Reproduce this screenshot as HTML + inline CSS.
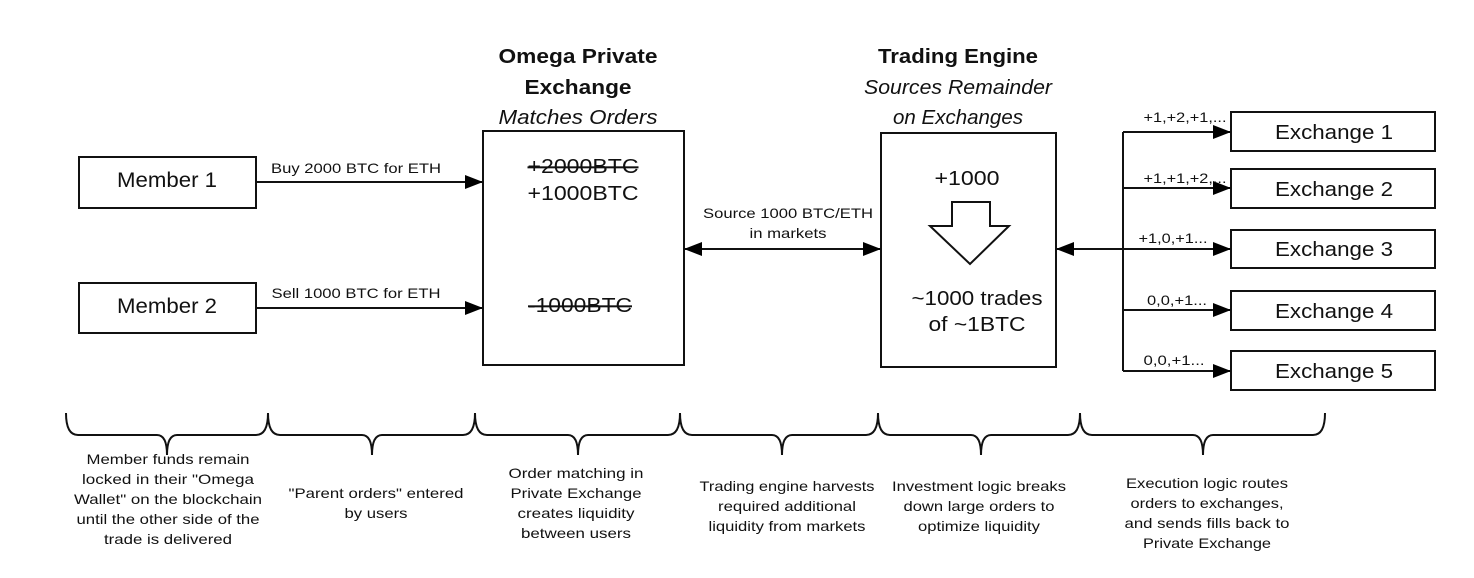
<!DOCTYPE html>
<html><head><meta charset="utf-8"><style>
html,body{margin:0;padding:0;background:#fff;}
svg{display:block;}
text{font-family:"Liberation Sans",sans-serif;fill:#111;}
</style></head><body>
<svg width="1474" height="578" viewBox="0 0 1474 578" xmlns="http://www.w3.org/2000/svg">
<defs>
<marker id="ah" markerWidth="18" markerHeight="14" refX="18" refY="7" orient="auto" markerUnits="userSpaceOnUse">
<path d="M0,0 L18,7 L0,14 Z" fill="#000"/></marker>
<marker id="as" markerWidth="18" markerHeight="14" refX="0" refY="7" orient="auto" markerUnits="userSpaceOnUse">
<path d="M18,0 L0,7 L18,14 Z" fill="#000"/></marker>
</defs>
<g fill="none" stroke="#111" stroke-width="2">
<rect x="79" y="157" width="177" height="51"/>
<rect x="79" y="283" width="177" height="50"/>
<rect x="483" y="131" width="201" height="234"/>
<rect x="881" y="133" width="175" height="234"/>
<rect x="1231" y="112" width="204" height="39"/>
<rect x="1231" y="169" width="204" height="39"/>
<rect x="1231" y="230" width="204" height="38"/>
<rect x="1231" y="291" width="204" height="39"/>
<rect x="1231" y="351" width="204" height="39"/>
<line x1="256" y1="182" x2="483" y2="182" marker-end="url(#ah)"/>
<line x1="256" y1="308" x2="483" y2="308" marker-end="url(#ah)"/>
<line x1="684" y1="249" x2="881" y2="249" marker-start="url(#as)" marker-end="url(#ah)"/>
<line x1="1056" y1="249" x2="1231" y2="249" marker-start="url(#as)" marker-end="url(#ah)"/>
<line x1="1123" y1="132" x2="1123" y2="371"/>
<line x1="1123" y1="132" x2="1231" y2="132" marker-end="url(#ah)"/>
<line x1="1123" y1="188" x2="1231" y2="188" marker-end="url(#ah)"/>
<line x1="1123" y1="310" x2="1231" y2="310" marker-end="url(#ah)"/>
<line x1="1123" y1="371" x2="1231" y2="371" marker-end="url(#ah)"/>
<path d="M952,202 L990,202 L990,226 L1009,226 L970,264 L930,226 L952,226 Z" stroke-width="2"/>
<path d="M66,413 Q66,435 78,435 L157,435 Q167,435 167,455 Q167,435 177,435 L256,435 Q268,435 268,413"/>
<path d="M268,413 Q268,435 280,435 L362,435 Q372,435 372,455 Q372,435 382,435 L463,435 Q475,435 475,413"/>
<path d="M475,413 Q475,435 487,435 L568,435 Q578,435 578,455 Q578,435 588,435 L668,435 Q680,435 680,413"/>
<path d="M680,413 Q680,435 692,435 L772,435 Q782,435 782,455 Q782,435 792,435 L866,435 Q878,435 878,413"/>
<path d="M878,413 Q878,435 890,435 L971,435 Q981,435 981,455 Q981,435 991,435 L1068,435 Q1080,435 1080,413"/>
<path d="M1080,413 Q1080,435 1092,435 L1193,435 Q1203,435 1203,455 Q1203,435 1213,435 L1313,435 Q1325,435 1325,413"/>
</g>
<g text-anchor="middle">
<text x="167" y="187" font-size="21" textLength="100" lengthAdjust="spacingAndGlyphs">Member 1</text>
<text x="167" y="313" font-size="21" textLength="100" lengthAdjust="spacingAndGlyphs">Member 2</text>
<text x="1334" y="139" font-size="20" textLength="118" lengthAdjust="spacingAndGlyphs">Exchange 1</text>
<text x="1334" y="196" font-size="20" textLength="118" lengthAdjust="spacingAndGlyphs">Exchange 2</text>
<text x="1334" y="256" font-size="20" textLength="118" lengthAdjust="spacingAndGlyphs">Exchange 3</text>
<text x="1334" y="318" font-size="20" textLength="118" lengthAdjust="spacingAndGlyphs">Exchange 4</text>
<text x="1334" y="378" font-size="20" textLength="118" lengthAdjust="spacingAndGlyphs">Exchange 5</text>
<text x="578" y="63" font-size="20" font-weight="bold" textLength="159" lengthAdjust="spacingAndGlyphs">Omega Private</text>
<text x="578" y="94" font-size="20" font-weight="bold" textLength="107" lengthAdjust="spacingAndGlyphs">Exchange</text>
<text x="578" y="124" font-size="20" font-style="italic" textLength="159" lengthAdjust="spacingAndGlyphs">Matches Orders</text>
<text x="958" y="63" font-size="20" font-weight="bold" textLength="160" lengthAdjust="spacingAndGlyphs">Trading Engine</text>
<text x="958" y="94" font-size="20" font-style="italic" textLength="188" lengthAdjust="spacingAndGlyphs">Sources Remainder</text>
<text x="958" y="124" font-size="20" font-style="italic" textLength="130" lengthAdjust="spacingAndGlyphs">on Exchanges</text>
<text x="583" y="173" font-size="20" text-decoration="line-through" textLength="111" lengthAdjust="spacingAndGlyphs">+2000BTC</text>
<text x="583" y="200" font-size="20" textLength="111" lengthAdjust="spacingAndGlyphs">+1000BTC</text>
<text x="580" y="312" font-size="20" text-decoration="line-through" textLength="104" lengthAdjust="spacingAndGlyphs">-1000BTC</text>
<text x="967" y="185" font-size="20" textLength="65" lengthAdjust="spacingAndGlyphs">+1000</text>
<text x="977" y="305" font-size="20" textLength="131" lengthAdjust="spacingAndGlyphs">~1000 trades</text>
<text x="977" y="331" font-size="20" textLength="97" lengthAdjust="spacingAndGlyphs">of ~1BTC</text>
<text x="788" y="218" font-size="14" textLength="170" lengthAdjust="spacingAndGlyphs">Source 1000 BTC/ETH</text>
<text x="788" y="238" font-size="14" textLength="77" lengthAdjust="spacingAndGlyphs">in markets</text>
<text x="356" y="173" font-size="14" textLength="170" lengthAdjust="spacingAndGlyphs">Buy 2000 BTC for ETH</text>
<text x="356" y="298" font-size="14" textLength="169" lengthAdjust="spacingAndGlyphs">Sell 1000 BTC for ETH</text>
<text x="1185" y="122" font-size="14" textLength="83" lengthAdjust="spacingAndGlyphs">+1,+2,+1,...</text>
<text x="1185" y="183" font-size="14" textLength="83" lengthAdjust="spacingAndGlyphs">+1,+1,+2,...</text>
<text x="1173" y="243" font-size="14" textLength="69" lengthAdjust="spacingAndGlyphs">+1,0,+1...</text>
<text x="1177" y="305" font-size="14" textLength="60" lengthAdjust="spacingAndGlyphs">0,0,+1...</text>
<text x="1174" y="365" font-size="14" textLength="61" lengthAdjust="spacingAndGlyphs">0,0,+1...</text>
</g>
<g text-anchor="middle" font-size="14">
<text x="168" y="464" textLength="163" lengthAdjust="spacingAndGlyphs">Member funds remain</text>
<text x="168" y="484" textLength="172" lengthAdjust="spacingAndGlyphs">locked in their "Omega</text>
<text x="168" y="504" textLength="188" lengthAdjust="spacingAndGlyphs">Wallet" on the blockchain</text>
<text x="168" y="524" textLength="183" lengthAdjust="spacingAndGlyphs">until the other side of the</text>
<text x="168" y="544" textLength="128" lengthAdjust="spacingAndGlyphs">trade is delivered</text>
<text x="376" y="498" textLength="175" lengthAdjust="spacingAndGlyphs">"Parent orders" entered</text>
<text x="376" y="518" textLength="63" lengthAdjust="spacingAndGlyphs">by users</text>
<text x="576" y="478" textLength="135" lengthAdjust="spacingAndGlyphs">Order matching in</text>
<text x="576" y="498" textLength="131" lengthAdjust="spacingAndGlyphs">Private Exchange</text>
<text x="576" y="518" textLength="117" lengthAdjust="spacingAndGlyphs">creates liquidity</text>
<text x="576" y="538" textLength="110" lengthAdjust="spacingAndGlyphs">between users</text>
<text x="787" y="491" textLength="175" lengthAdjust="spacingAndGlyphs">Trading engine harvests</text>
<text x="787" y="511" textLength="138" lengthAdjust="spacingAndGlyphs">required additional</text>
<text x="787" y="531" textLength="157" lengthAdjust="spacingAndGlyphs">liquidity from markets</text>
<text x="979" y="491" textLength="174" lengthAdjust="spacingAndGlyphs">Investment logic breaks</text>
<text x="979" y="511" textLength="151" lengthAdjust="spacingAndGlyphs">down large orders to</text>
<text x="979" y="531" textLength="122" lengthAdjust="spacingAndGlyphs">optimize liquidity</text>
<text x="1207" y="488" textLength="162" lengthAdjust="spacingAndGlyphs">Execution logic routes</text>
<text x="1207" y="508" textLength="153" lengthAdjust="spacingAndGlyphs">orders to exchanges,</text>
<text x="1207" y="528" textLength="165" lengthAdjust="spacingAndGlyphs">and sends fills back to</text>
<text x="1207" y="548" textLength="128" lengthAdjust="spacingAndGlyphs">Private Exchange</text>
</g>
</svg>
</body></html>
